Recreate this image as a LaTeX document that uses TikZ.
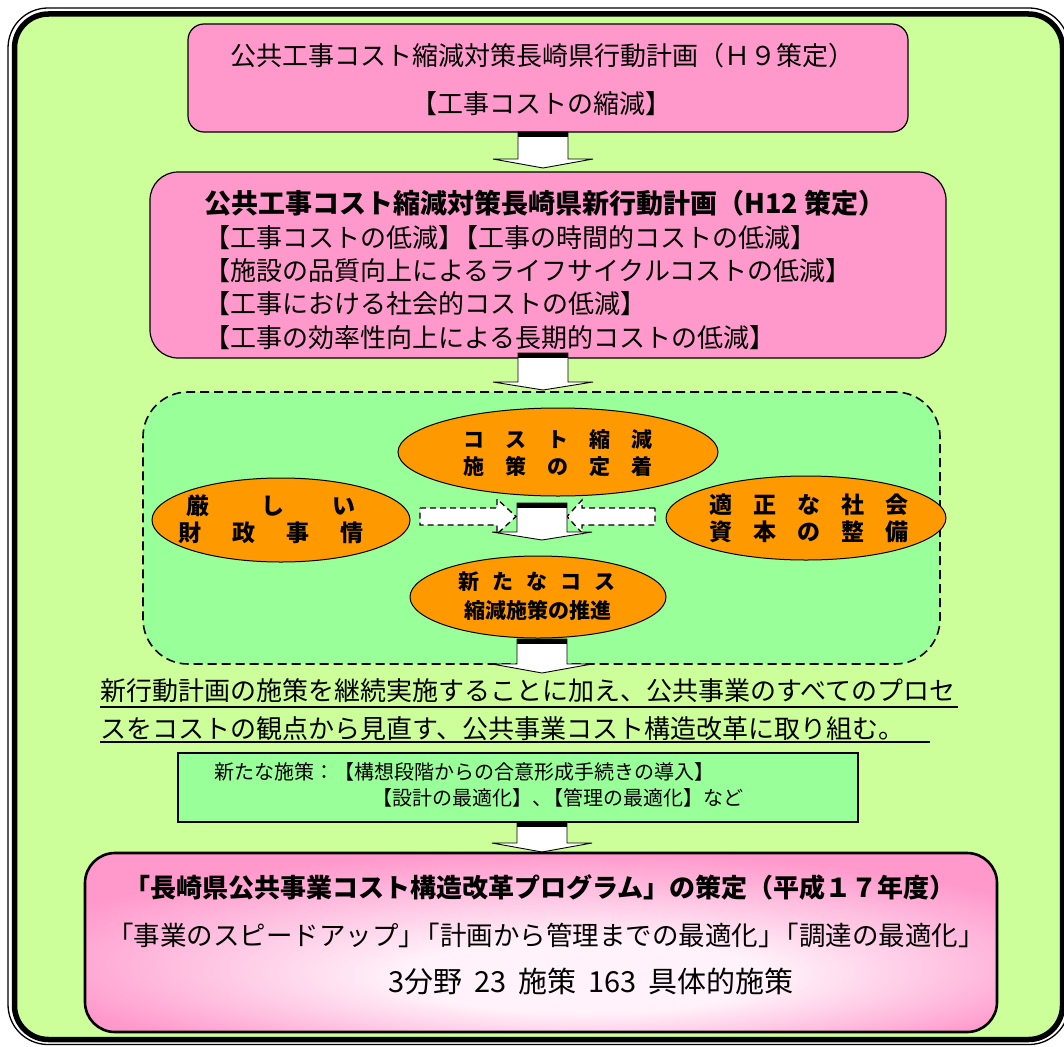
\documentclass[tikz,border=0pt]{standalone}
\usepackage{fontspec}
\setmainfont{Noto Sans CJK JP}
\usetikzlibrary{shapes.geometric}
\definecolor{framegreen}{HTML}{CCFF99}
\definecolor{boxpink}{HTML}{FF99CC}
\definecolor{lightgreen}{HTML}{99FF99}
\definecolor{ellorange}{HTML}{FF9900}
\definecolor{pinkcenter}{RGB}{255,242,250}
\newcommand{\jfs}[1]{\fontsize{#1pt}{#1pt}\selectfont}
\newcommand{\tightk}{\kern-0.45em}
\pgfdeclareradialshading{pinkglow}{\pgfpoint{3bp}{-12bp}}{%
  color(0bp)=(pinkcenter); color(10bp)=(pinkcenter); color(30bp)=(boxpink); color(50bp)=(boxpink)}
\tikzset{
  pinkbox/.style={draw=black, line width=1.2pt, fill=boxpink},
  ellnode/.style={ellipse, draw=black, line width=1pt, fill=ellorange, inner sep=0pt},
  elltext/.style={align=center, inner sep=0pt},
  pics/blockdown/.style args={#1/#2}{code={
    \filldraw[fill=white, draw=black, line width=0.9pt, line join=miter]
      (-25,0) -- (25,0) -- (25,#1) -- (50,#1) -- (0,#2) -- (-50,#1) -- (-25,#1) -- cycle;
    \fill[black] (-25,0) rectangle (25,4.5);
  }},
  dasharrow/.style={fill=white, draw=black, line width=1.3pt, dash pattern=on 6pt off 4pt}
}
\begin{document}
\begin{tikzpicture}[x=1pt,y=-1pt]
\useasboundingbox (0,0) rectangle (1064,1046);
\clip (0,0) rectangle (1064,1046);
\fill[white] (0,0) rectangle (1064,1046);
% frame
\draw[line width=1.3pt, rounded corners=40pt] (8,8) rectangle (1069,1044.5);
\draw[line width=5.5pt, fill=framegreen, rounded corners=34pt] (14.5,14) rectangle (1062.5,1039.5);

% box 1
\node[pinkbox, minimum width=720pt, minimum height=108pt, rounded corners=16pt] (b1) at (548,78) {};
\node[font=\jfs{26}, inner sep=0pt] (b1t1) at (542,56) {公共工事コスト縮減対策長崎県行動計画（Ｈ９策定）};
\node[font=\jfs{26}, inner sep=0pt] (b1t2) at (541,104) {【工事コストの縮減】};

% box 2
\node[pinkbox, minimum width=796pt, minimum height=186pt, rounded corners=28pt] (b2) at (548,265) {};
\node[font=\bfseries\jfs{27}, anchor=west, inner sep=0pt] (b2t0) at (204,203) {公共工事コスト縮減対策長崎県新行動計画（H12 策定）};
\node[font=\jfs{26}, anchor=west, inner sep=0pt] (b2t1) at (204,238) {【工事コストの低減】\tightk【工事の時間的コストの低減】};
\node[font=\jfs{26}, anchor=west, inner sep=0pt] (b2t2) at (204,271) {【施設の品質向上によるライフサイクルコストの低減】};
\node[font=\jfs{26}, anchor=west, inner sep=0pt] (b2t3) at (204,304) {【工事における社会的コストの低減】};
\node[font=\jfs{26}, anchor=west, inner sep=0pt] (b2t4) at (204,338) {【工事の効率性向上による長期的コストの低減】};

% dashed region
\node[draw=black, line width=1.6pt, dash pattern=on 9pt off 5pt, fill=lightgreen, rounded corners=45pt,
      minimum width=797pt, minimum height=272pt] (reg) at (541.5,528) {};

% ellipses
\node[ellnode, minimum width=320pt, minimum height=88pt] (e1) at (558,452) {};
\node[elltext, font=\bfseries\jfs{21}] (e1t) at (558,453) {コ\kern21ptス\kern21ptト\kern21pt縮\kern21pt減\\[6pt]施\kern21pt策\kern21ptの\kern21pt定\kern21pt着};
\node[ellnode, minimum width=258pt, minimum height=84pt] (e2) at (281,520) {};
\node[elltext, font=\bfseries\jfs{23}] (e2t1) at (271,506) {厳\kern52ptし\kern48ptい};
\node[elltext, font=\bfseries\jfs{23}] (e2t2) at (271,533) {財\kern31pt政\kern31pt事\kern31pt情};
\node[ellnode, minimum width=280pt, minimum height=84pt] (e3) at (806,518) {};
\node[elltext, font=\bfseries\jfs{23}] (e3t1) at (809,505) {適\kern21pt正\kern21ptな\kern21pt社\kern21pt会};
\node[elltext, font=\bfseries\jfs{23}] (e3t2) at (809,532) {資\kern21pt本\kern21ptの\kern21pt整\kern21pt備};
\node[ellnode, minimum width=256pt, minimum height=82pt] (e4) at (538,597) {};
\node[elltext, font=\bfseries\jfs{21}] (e4t1) at (537,582) {新\kern13ptた\kern13ptな\kern13ptコ\kern13ptス};
\node[elltext, font=\bfseries\jfs{21}] (e4t2) at (538,610) {縮減施策の推進};

% middle arrows
\draw[dasharrow] (420,508) -- (497,508) -- (497,499) -- (516,516.5) -- (497,534) -- (497,525) -- (420,525) -- cycle;
\draw[dasharrow] (655,508) -- (582,508) -- (582,500) -- (567,516.5) -- (582,533) -- (582,525) -- (655,525) -- cycle;
\pic at (542,503) {blockdown=29/37};

% arrows between boxes
\pic at (543,132) {blockdown=27/36};
\pic at (543,353) {blockdown=29/37};
\pic at (542,639) {blockdown=25/34};

% underlined statement
\node[font=\jfs{26}, anchor=west, inner sep=0pt] (s1) at (100,691) {新行動計画の施策を継続実施することに加え、公共事業のすべてのプロセ};
\node[font=\jfs{26}, anchor=west, inner sep=0pt] (s2) at (100,729) {スをコストの観点から見直す、公共事業コスト構造改革に取り組む。};
\draw[line width=1.3pt] (100,707) -- (958,707);
\draw[line width=1.3pt] (100,742) -- (930,742);

% new measures box
\node[draw=black, line width=1.1pt, fill=lightgreen, minimum width=680pt, minimum height=69pt] (nb) at (518,787.5) {};
\node[font=\jfs{20}, anchor=west, inner sep=0pt] (nbt1) at (214,772) {新たな施策：【構想段階からの合意形成手続きの導入】};
\node[font=\jfs{20}, anchor=west, inner sep=0pt] (nbt2) at (372,798) {【設計の最適化】、\tightk【管理の最適化】など};

\pic at (542,822) {blockdown=21/30};

% final box
\node[draw=black, line width=2.6pt, rounded corners=30pt, shade, shading=pinkglow,
      minimum width=912pt, minimum height=179pt] (fb) at (541,942.5) {};
\node[font=\bfseries\jfs{26}, inner sep=0pt] (fbt1) at (540,888) {「長崎県公共事業コスト構造改革プログラム」の策定（平成１７年度）};
\node[font=\jfs{26.5}, inner sep=0pt] (fbt2) at (546,935) {「事業のスピードアップ」\tightk「計画から管理までの最適化」\tightk「調達の最適化」};
\node[font=\jfs{29}, inner sep=0pt] (fbt3) at (591,981) {3分野\hspace{12pt}23\hspace{12pt}施策\hspace{12pt}163\hspace{12pt}具体的施策};
\end{tikzpicture}
\end{document}
